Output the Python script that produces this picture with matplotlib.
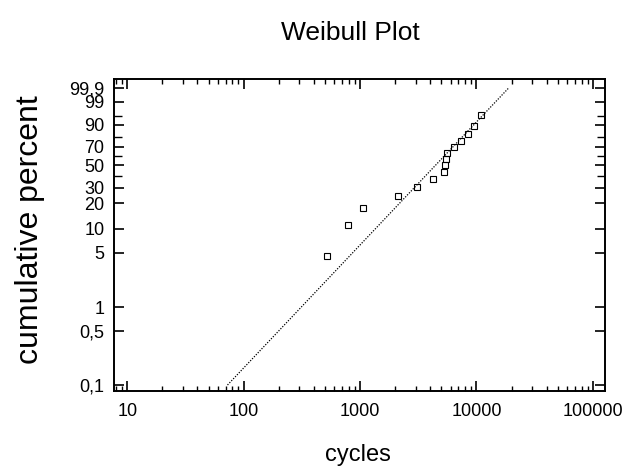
import numpy as np
import matplotlib
matplotlib.use("Agg")
import matplotlib.pyplot as plt
from matplotlib.ticker import FixedLocator, FixedFormatter, LogLocator, NullFormatter

plt.rcParams['font.family'] = ['Liberation Sans', 'DejaVu Sans']

# Failure data: cycles to failure and median-rank cumulative percent
cycles = [520, 790, 1060, 2130, 3100, 4250, 5300, 5350, 5420, 5600,
          6400, 7300, 8500, 9500, 10900]
cum_percent = [4.5, 11.0, 17.5, 24.0, 30.5, 37.0, 43.5, 50.0, 56.5, 63.0,
               69.5, 76.0, 82.5, 89.0, 95.5]

# Fitted two-parameter Weibull line
beta = 1.59
eta = 5600.0
fit_percent_range = [0.1, 99.9]

# Axis ticks
y_major = [0.1, 0.5, 1, 5, 10, 20, 30, 50, 70, 90, 99, 99.9]
y_major_labels = ['0,1', '0,5', '1', '5', '10', '20', '30', '50', '70', '90', '99', '99,9']
y_minor = [40, 60, 80, 95]
x_major = [10, 100, 1000, 10000, 100000]
x_major_labels = ['10', '100', '1000', '10000', '100000']


def weibull_fwd(p):
    p = np.clip(np.asarray(p, dtype=float), 1e-9, 100 - 1e-9)
    return np.log(-np.log(1.0 - p / 100.0))


def weibull_inv(y):
    y = np.asarray(y, dtype=float)
    return 100.0 * (1.0 - np.exp(-np.exp(y)))


fig = plt.figure(figsize=(6.34, 4.66), dpi=100)
ax = fig.add_axes([114 / 634, 75 / 466, 491 / 634, 312 / 466])

ax.set_xscale('log')
ax.set_yscale('function', functions=(weibull_fwd, weibull_inv))
ax.set_xlim(7.7, 127000)
ax.set_ylim(weibull_inv(-7.086), weibull_inv(2.201))

# fitted line, evenly spaced along the Weibull axis
p_line = weibull_inv(np.linspace(weibull_fwd(fit_percent_range[0]),
                                 weibull_fwd(fit_percent_range[1]), 400))
t_line = eta * (-np.log(1.0 - p_line / 100.0)) ** (1.0 / beta)
ax.plot(t_line, p_line, linestyle=(0, (1, 1.2)), color='black', linewidth=0.9)

# data points
ax.plot(cycles, cum_percent, linestyle='none', marker='s', markersize=4.4,
        markerfacecolor='none', markeredgecolor='black', markeredgewidth=0.8)

ax.yaxis.set_major_locator(FixedLocator(y_major))
ax.yaxis.set_major_formatter(FixedFormatter(y_major_labels))
ax.yaxis.set_minor_locator(FixedLocator(y_minor))
ax.yaxis.set_minor_formatter(NullFormatter())

ax.xaxis.set_major_locator(FixedLocator(x_major))
ax.xaxis.set_major_formatter(FixedFormatter(x_major_labels))
ax.xaxis.set_minor_locator(LogLocator(base=10, subs=np.arange(2, 10)))
ax.xaxis.set_minor_formatter(NullFormatter())

ax.tick_params(which='both', direction='in', top=True, right=True,
               colors='black', labelsize=13)
ax.tick_params(which='major', length=7, width=1.2)
ax.tick_params(axis='x', which='minor', length=3.5, width=1.0)
ax.tick_params(axis='y', which='minor', length=5.5, width=1.0)
ax.tick_params(axis='y', pad=7)
ax.tick_params(axis='x', pad=9)

for s in ax.spines.values():
    s.set_linewidth(1.4)
    s.set_color('black')

ax.set_ylabel('cumulative percent', fontsize=23, va='center')
ax.yaxis.set_label_coords((30 - 114) / 491, (391 - 230) / 312)
ax.set_xlabel('cycles', fontsize=17, va='center')
ax.xaxis.set_label_coords((358 - 114) / 491, (391 - 455) / 312)

fig.text(350 / 634, 1 - 33 / 466, 'Weibull Plot', fontsize=19,
         ha='center', va='center')

fig.savefig('out.png', dpi=100, facecolor='white')
